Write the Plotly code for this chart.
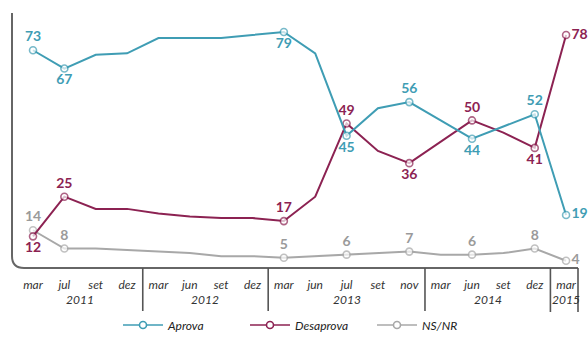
import plotly.graph_objects as go

# Survey rounds (month, year)
months = ["mar", "jul", "set", "dez",
          "mar", "jun", "set", "dez",
          "mar", "jun", "jul", "set", "nov",
          "mar", "jun", "set", "dez",
          "mar"]
years = ["2011", "2012", "2013", "2014", "2015"]
year_sizes = [4, 4, 5, 4, 1]

aprova = [73, 67, 71.5, 72, 77, 77, 77, 78, 79, 72, 45, 54, 56, 50, 44, 48, 52, 19]
desaprova = [12, 25, 21, 21, 19.5, 18.5, 18, 18, 17, 25, 49, 40, 36, 43, 50, 46, 41, 78]
nsnr = [14, 8, 8, 7.5, 7, 6.5, 5.5, 5.5, 5, 5.5, 6, 6.5, 7, 6, 6, 6.5, 8, 4]

# Which rounds carry a marker and a value label, and where the label sits
aprova_pos = {0: "top center", 1: "bottom center", 8: "bottom center", 10: "bottom center",
              12: "top center", 14: "bottom center", 16: "top center", 17: "middle right"}
desaprova_pos = {0: "bottom center", 1: "top center", 8: "top center", 10: "top center",
                 12: "bottom center", 14: "top center", 16: "bottom center", 17: "middle right"}
nsnr_pos = {0: "top center", 1: "top center", 8: "top center", 10: "top center",
            12: "top center", 14: "top center", 16: "top center", 17: "middle right"}

C_APROVA = "#3f9db4"
C_DESAPROVA = "#8c2252"
C_NSNR = "#a8a8a8"
C_NSNR_TXT = "#9a9a9a"
FONT = "Lato"

x = list(range(len(months)))

fig = go.Figure()


def add_series(name, values, positions, color, txt_color, rank):
    text = [f"{values[i]:g}" if i in positions else "" for i in x]
    tpos = [positions.get(i, "top center") for i in x]
    sizes = [7 if i in positions else 0 for i in x]
    fig.add_trace(go.Scatter(
        x=x, y=values, mode="lines+markers+text", name=name,
        line=dict(color=color, width=2),
        marker=dict(symbol="circle", size=sizes, color="white",
                    line=dict(color=color, width=1.6)),
        text=text, textposition=tpos,
        textfont=dict(family=FONT, size=14, color=txt_color, weight="bold"),
        cliponaxis=False, showlegend=False, hoverinfo="skip",
    ))
    # legend entry
    fig.add_trace(go.Scatter(
        x=[None], y=[None], mode="lines+markers", name=name, legendrank=rank,
        line=dict(color=color, width=1.6),
        marker=dict(symbol="circle", size=7, color="white",
                    line=dict(color=color, width=1.6)),
    ))


add_series("NS/NR", nsnr, nsnr_pos, C_NSNR, C_NSNR_TXT, 3)
add_series("Desaprova", desaprova, desaprova_pos, C_DESAPROVA, C_DESAPROVA, 2)
add_series("Aprova", aprova, aprova_pos, C_APROVA, C_APROVA, 1)

W, H = 588, 338
ML, MR, MT, MB = 12, 10, 10, 70
pw, ph = W - ML - MR, H - MT - MB

# rounded frame: left and bottom edges
rx, ry = 12 / pw, 12 / ph
shapes = [dict(type="path", xref="paper", yref="paper",
               path=f"M 0,{(ph - 3) / ph:.4f} L 0,{ry:.4f} Q 0,0 {rx:.4f},0 L 1,0",
               line=dict(color="#666666", width=2))]

# year labels and separators below the axis
sep_bottom = -44 / ph
start = 0
annotations = []
for yr, n in zip(years, year_sizes):
    end = start + n - 1
    annotations.append(dict(x=(start + end) / 2, y=-31 / ph, xref="x", yref="paper",
                            text=yr, showarrow=False, yanchor="middle",
                            font=dict(family=FONT, size=12, color="#333333", style="italic")))
    if end < len(months) - 1:
        shapes.append(dict(type="line", xref="x", yref="paper", x0=end + 0.5, x1=end + 0.5,
                           y0=0, y1=sep_bottom, line=dict(color="#555555", width=1.6)))
    start = end + 1
shapes.append(dict(type="line", xref="paper", yref="paper", x0=1, x1=1,
                   y0=0, y1=sep_bottom, line=dict(color="#555555", width=1.6)))

fig.update_layout(
    width=W, height=H,
    margin=dict(l=ML, r=MR, t=MT, b=MB),
    paper_bgcolor="white", plot_bgcolor="white",
    showlegend=True,
    legend=dict(orientation="h", xref="container", yref="container",
                x=118 / W, xanchor="left", y=13 / H, yanchor="middle",
                font=dict(family=FONT, size=12, color="#222222", style="italic"),
                itemwidth=40, entrywidth=72),
    xaxis=dict(range=[-0.67, 17.38], tickvals=x, ticktext=months,
               showgrid=False, zeroline=False, showline=False, ticks="",
               ticklabelstandoff=8, automargin=False,
               tickfont=dict(family=FONT, size=12, color="#333333", style="italic"),
               fixedrange=True),
    yaxis=dict(range=[1.62, 86.2], showgrid=False, zeroline=False, showline=False,
               showticklabels=False, ticks="", fixedrange=True, automargin=False),
    shapes=shapes,
    annotations=annotations,
)

fig.write_html("out.html")
